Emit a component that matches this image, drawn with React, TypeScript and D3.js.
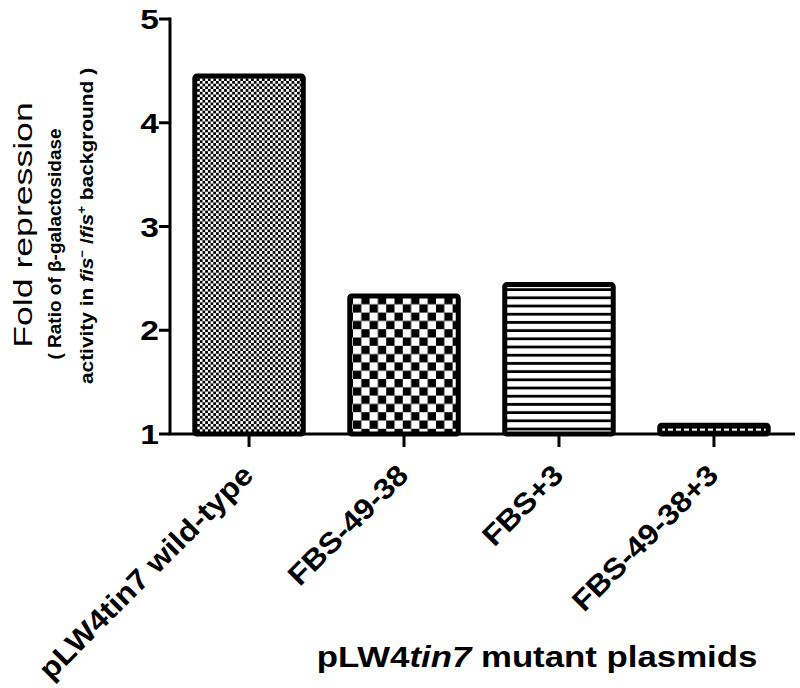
import React from "react";
import * as d3 from "d3";

// data
const categories = ["pLW4tin7 wild-type", "FBS-49-38", "FBS+3", "FBS-49-38+3"];
const foldRepression = [4.45, 2.33, 2.44, 1.085];
const yTicks = [1, 2, 3, 4, 5];
const patterns = ["fineCheck", "bigCheck", "stripes", "dash"];

const W = 800;
const H = 688;

const App = () => {
  const x = d3.scaleBand().domain(categories).range([170, 793]).paddingInner(0.3).paddingOuter(0.16);
  const y = d3.scaleLinear().domain([1, 5]).range([434, 19]);
  const font = "'Liberation Sans', Arial, sans-serif";

  return (
    <svg width={W} height={H} style={{display: "block", position: "absolute", left: 0, top: 0}}>
      <defs>
        <pattern id="fineCheck" width="5.4" height="5.4" patternUnits="userSpaceOnUse">
          <rect width="5.4" height="5.4" fill="#fff" />
          <rect width="2.7" height="2.7" fill="#000" />
          <rect x="2.7" y="2.7" width="2.7" height="2.7" fill="#000" />
        </pattern>
        <pattern id="bigCheck" width="16.6" height="16.6" patternUnits="userSpaceOnUse" x="353" y="296">
          <rect width="16.6" height="16.6" fill="#000" />
          <rect width="8.3" height="8.3" fill="#fff" />
          <rect x="8.3" y="8.3" width="8.3" height="8.3" fill="#fff" />
        </pattern>
        <pattern id="stripes" width="10" height="8.2" patternUnits="userSpaceOnUse" y="291">
          <rect width="10" height="8.2" fill="#fff" />
          <rect y="5.4" width="10" height="2.8" fill="#000" />
        </pattern>
        <pattern id="dash" width="8" height="20" patternUnits="userSpaceOnUse" y="428.6" x="668">
          <rect width="8" height="20" fill="#000" />
          <rect x="0" y="0" width="5" height="2.2" fill="#fff" />
        </pattern>
      </defs>

      {/* bars */}
      {categories.map((c, i) => (
        <rect
          key={c}
          x={x(c)}
          y={y(foldRepression[i])}
          width={x.bandwidth()}
          height={y(1) - y(foldRepression[i])}
          fill={`url(#${patterns[i]})`}
          stroke="#000"
          strokeWidth={5}
          rx={2}
        />
      ))}

      {/* y axis */}
      <line x1={170} x2={170} y1={y(5) - 1.5} y2={y(1)} stroke="#000" strokeWidth={3} />
      {yTicks.map((t) => (
        <g key={t}>
          <line x1={159} x2={170} y1={y(t)} y2={y(t)} stroke="#000" strokeWidth={3} />
          <text
            transform={`translate(159,${y(t)}) scale(1.2,1)`}
            dy="0.36em"
            textAnchor="end"
            fontFamily={font}
            fontWeight="bold"
            fontSize={28}
          >
            {t}
          </text>
        </g>
      ))}

      {/* x axis */}
      <line x1={168.5} x2={795} y1={y(1)} y2={y(1)} stroke="#000" strokeWidth={3} />
      {categories.map((c) => {
        const cx = x(c)! + x.bandwidth() / 2;
        return (
          <g key={c}>
            <line x1={cx} x2={cx} y1={y(1)} y2={y(1) + 13} stroke="#000" strokeWidth={3} />
            <text
              transform={`translate(${cx + 6},${y(1) + 43}) rotate(-45) scale(1.1,1)`}
              textAnchor="end"
              fontFamily={font}
              fontWeight="bold"
              fontSize={29}
            >
              {c}
            </text>
          </g>
        );
      })}

      {/* axis titles */}
      <text
        transform="translate(537,667) scale(1.16,1)"
        textAnchor="middle"
        fontFamily={font}
        fontWeight="bold"
        fontSize={30}
      >
        pLW4<tspan fontStyle="italic">tin7</tspan> mutant plasmids
      </text>
      <text transform="translate(31.5,225) rotate(-90) scale(1.37,1)" textAnchor="middle" fontFamily={font} fontSize={26}>
        Fold repression
      </text>
      <text transform="translate(61,244) rotate(-90)" textAnchor="middle" fontFamily={font} fontWeight="bold" fontSize={19}>
        ( Ratio of β-galactosidase
      </text>
      <text
        transform="translate(93,226) rotate(-90) scale(1.1,1)"
        textAnchor="middle"
        fontFamily={font}
        fontWeight="bold"
        fontSize={19}
      >
        activity in <tspan fontStyle="italic">fis</tspan>
        <tspan baselineShift="super" fontSize={12}>−</tspan>
        <tspan> /</tspan>
        <tspan fontStyle="italic">fis</tspan>
        <tspan baselineShift="super" fontSize={12}>+</tspan>
        <tspan> background )</tspan>
      </text>
    </svg>
  );
};

export default App;
